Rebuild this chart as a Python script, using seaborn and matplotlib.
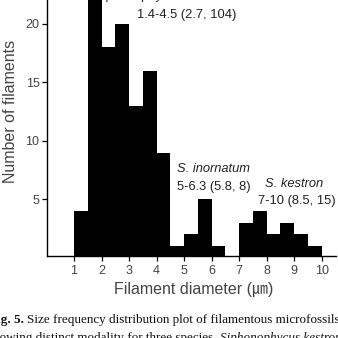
import numpy as np
import pandas as pd
import seaborn as sns
import matplotlib.pyplot as plt

# histogram bins (0.5 um wide) and counts
bin_edges = [1.0, 1.5, 2.0, 2.5, 3.0, 3.5, 4.0, 4.5, 5.0, 5.5,
             6.0, 6.5, 7.0, 7.5, 8.0, 8.5, 9.0, 9.5, 10.0]
counts = [4, 24, 18, 20, 13, 16, 9, 1, 2, 5, 1, 0, 3, 4, 2, 3, 2, 1]

x_ticks = [1, 2, 3, 4, 5, 6, 7, 8, 9, 10]
y_ticks = [5, 10, 15, 20]

data = pd.DataFrame({'diameter': np.array(bin_edges[:-1]) + 0.25,
                     'count': counts})

sns.set_style('ticks')
plt.rcParams['font.family'] = ['Liberation Sans', 'Noto Sans CJK KR', 'DejaVu Sans']

W = H = 338
fig = plt.figure(figsize=(3.38, 3.38), dpi=100)
ax = fig.add_axes([46.5 / W, (H - 256) / H, (336 - 46.5) / W, 256 / H])

sns.histplot(data=data, x='diameter', weights='count', bins=bin_edges,
             color='black', alpha=1, linewidth=0, ax=ax)

ax.set_xlim(0, 10.52)
ax.set_ylim(0.15, 22.05)
ax.set_xticks(x_ticks)
ax.set_yticks(y_ticks)
ax.tick_params(axis='both', labelsize=9, labelcolor='#444444', length=3.5,
               width=0.9, pad=1.5, color='black')
ax.tick_params(axis='x', pad=3)
for s in ['top', 'right']:
    ax.spines[s].set_visible(False)
for s in ['left', 'bottom']:
    ax.spines[s].set_linewidth(1.0)
    ax.spines[s].set_color('black')

ax.set_ylabel('Number of filaments', fontsize=11.5, color='#444444')
ax.set_xlabel('Filament diameter (\u339b)', fontsize=11.5, color='#444444')
ax.yaxis.set_label_coords(-0.098, 0.566)
ax.xaxis.set_label_coords(0.51, -0.10)

# species annotations
def px(x, y):
    return x / W, 1 - y / H

tc = '#222222'
fig.text(*px(95, -1), 'Siphonophycus robustum', style='italic', fontsize=9.3,
         color=tc, ha='left', va='baseline')
fig.text(*px(137, 18), '1.4-4.5 (2.7, 104)', fontsize=9.3, color=tc,
         ha='left', va='baseline')
fig.text(*px(177, 172), 'S. inornatum', style='italic', fontsize=9.3,
         color=tc, ha='left', va='baseline')
fig.text(*px(177, 190), '5-6.3 (5.8, 8)', fontsize=9.3, color=tc,
         ha='left', va='baseline')
fig.text(*px(265, 187), 'S. kestron', style='italic', fontsize=9.3,
         color=tc, ha='left', va='baseline')
fig.text(*px(258, 204), '7-10 (8.5, 15)', fontsize=9.3, color=tc,
         ha='left', va='baseline')

# caption (cropped at the edges in the original)
cap = dict(family=['Liberation Serif', 'DejaVu Serif'], fontsize=9.45, color='#111111')
fig.text(*px(24, 323), 'Fig. 5.', fontweight='bold', ha='right', va='baseline', **cap)
fig.text(*px(27, 323), 'Size frequency distribution plot of filamentous microfossils',
         ha='left', va='baseline', **cap)
t2 = fig.text(*px(-12, 341), 'showing distinct modality for three species.',
              ha='left', va='baseline', **cap)
fig.canvas.draw()
bb = t2.get_window_extent()
fig.text(*px(bb.x1 + 3.5, 341), 'Siphonophycus kestron', style='italic',
         ha='left', va='baseline', **cap)

fig.savefig('out.png', dpi=100)
